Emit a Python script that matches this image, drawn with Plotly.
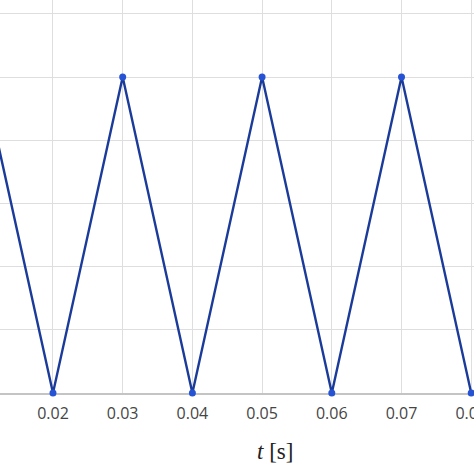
import plotly.graph_objects as go

# Triangle wave samples
t_values = [0.01, 0.02, 0.03, 0.04, 0.05, 0.06, 0.07, 0.08]
signal = [5, 0, 5, 0, 5, 0, 5, 0]
x_title = '<i>t</i> [s]'

fig = go.Figure()

fig.add_trace(go.Scatter(
    x=t_values,
    y=signal,
    mode='lines+markers',
    line=dict(color='#1b3b9a', width=2.4),
    marker=dict(color='#2553d4', size=7),
    cliponaxis=False,
    showlegend=False,
))

fig.update_layout(
    width=474,
    height=474,
    margin=dict(l=0, r=0, t=0, b=81, autoexpand=False),
    paper_bgcolor='white',
    plot_bgcolor='white',
)

# axis title as annotation, the left part of the original plot is cropped
fig.add_annotation(
    text=x_title,
    xref='paper', yref='paper',
    x=0.58, y=-0.15,
    xanchor='center', yanchor='middle',
    showarrow=False,
    font=dict(family='Liberation Serif', size=23, color='#222222'),
)

fig.update_xaxes(
    range=[0.0124, 0.0804],
    dtick=0.01,
    tick0=0,
    tickformat='.2f',
    showgrid=True,
    gridcolor='#dedede',
    gridwidth=1.2,
    showline=True,
    linecolor='#c4c4c4',
    linewidth=1.5,
    layer='below traces',
    zeroline=False,
    ticks='',
    ticklabelstandoff=5,
    ticklabeloverflow='allow',
    automargin=False,
    tickfont=dict(family='Open Sans', size=16, color='#454545'),
)

fig.update_yaxes(
    range=[0, 6.22],
    dtick=1,
    showgrid=True,
    gridcolor='#dedede',
    gridwidth=1.2,
    showticklabels=False,
    zeroline=False,
    ticks='',
    layer='below traces',
)

fig.write_html('out.html', config={'displayModeBar': False},
               post_script="document.body.style.margin='0';document.body.style.overflow='hidden';")
